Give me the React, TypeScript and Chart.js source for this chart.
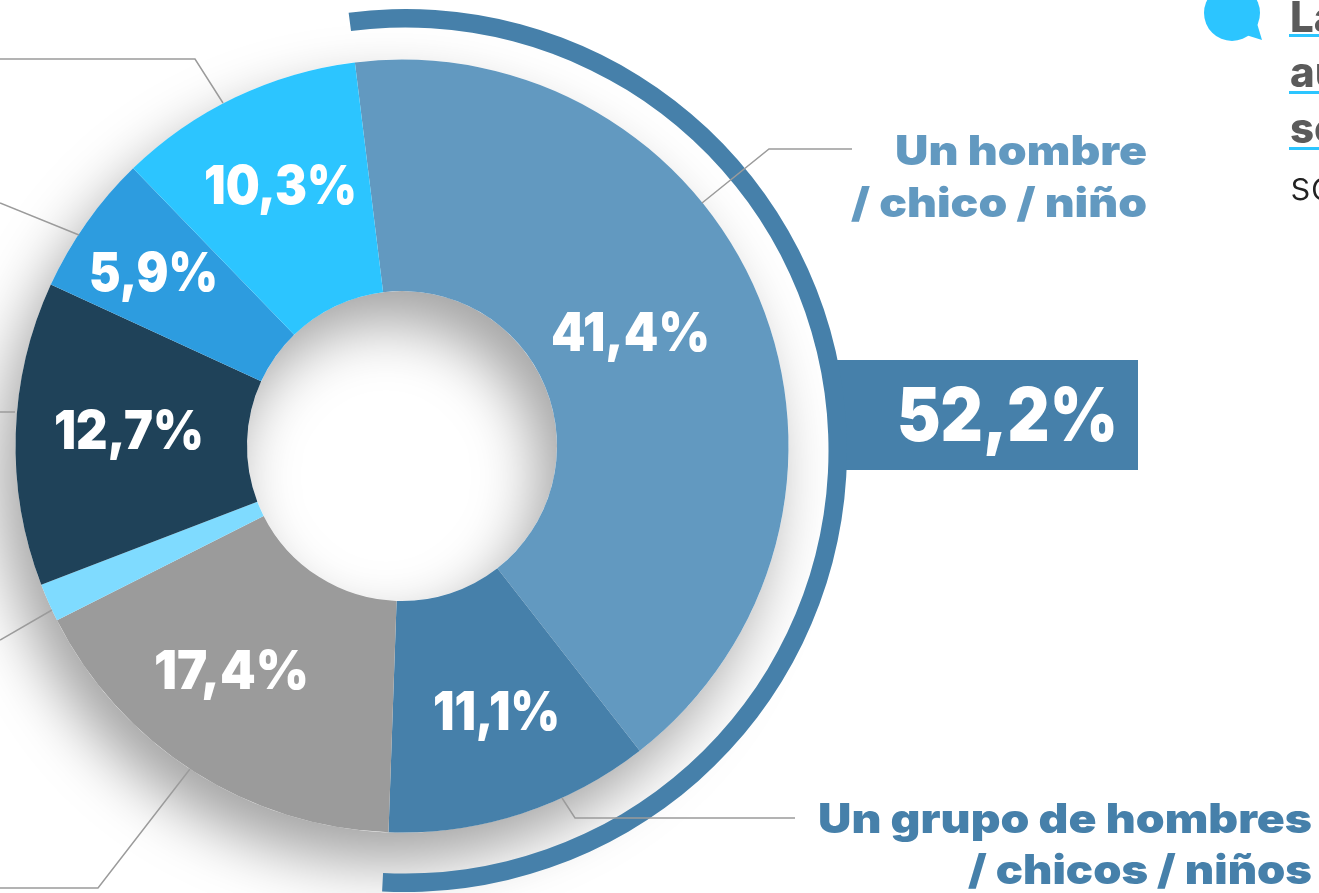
import React, { useEffect, useRef } from "react";
import { Chart, registerables } from "chart.js";

Chart.register(...registerables);

const categories = [
  "Un hombre / chico / niño",
  "Un grupo de hombres / chicos / niños",
  "Gris",
  "Celeste",
  "Azul oscuro",
  "Azul",
  "Cian",
];
const shareValues = [41.4, 11.1, 17.0, 1.6, 12.7, 5.9, 10.3];
const sliceColors = ["#6299C0", "#4680AA", "#9B9B9B", "#7FDBFF", "#1F4259", "#2D9CDF", "#2CC5FF"];
const ringValues = [52.9, 47.1];
const ringColors = ["#4680AA", "rgba(0,0,0,0)"];
const spacerValues = [1];

const FONT = "Inter, 'Noto Sans', sans-serif";

// text, centre x, baseline y, size, target width
const sliceLabels: [string, number, number, number, number][] = [
  ["41,4%", 630.5, 351, 54, 159],
  ["11,1%", 496.5, 730, 54, 127],
  ["17,4%", 231.5, 689, 54, 155],
  ["12,7%", 129, 449, 54, 150],
  ["5,9%", 153.5, 291, 54, 129],
  ["10,3%", 280.5, 204, 54, 153],
];
const calloutLabel: [string, number, number, number, number] = ["52,2%", 1007.5, 441, 74, 221];

// text, right x, baseline y, colour, target width
const sideLabels: [string, number, number, string, number][] = [
  ["Un hombre", 1147, 165, "#6299C0", 252],
  ["/ chico / niño", 1147, 217, "#6299C0", 296],
  ["Un grupo de hombres", 1312, 833, "#4680AA", 494],
  ["/ chicos / niños", 1312, 884, "#4680AA", 344],
];
// text, baseline y, underline y
const noteLines: [string, number, number][] = [
  ["La", 32, 34],
  ["au", 87, 91],
  ["se", 143, 147],
];
const noteTail = "so";

const leaderLines: number[][][] = [
  [[0, 59], [195, 59], [223, 103]],
  [[0, 203], [79, 235]],
  [[0, 412], [15, 412]],
  [[0, 640], [52, 610]],
  [[0, 888], [98, 888], [190, 769]],
  [[702, 203], [769, 149], [852, 149]],
  [[562, 798], [575, 818], [795, 818]],
];

function fittedText(ctx: any, text: string, x: number, y: number, size: number, width: number, align: string) {
  ctx.save();
  ctx.font = `900 ${size}px ${FONT}`;
  ctx.textAlign = align;
  ctx.textBaseline = "alphabetic";
  const w = ctx.measureText(text).width;
  ctx.translate(x, y);
  ctx.scale(width / w, 1);
  ctx.fillText(text, 0, 0);
  ctx.restore();
}

const artPlugin = {
  id: "art",
  beforeDatasetsDraw(chart: any) {
    const ctx = chart.ctx;
    const arc = chart.getDatasetMeta(2).data[0];
    ctx.save();
    // soft shadow of the main ring
    ctx.shadowColor = "rgba(0,0,0,0.36)";
    ctx.shadowBlur = 60;
    ctx.shadowOffsetX = -16;
    ctx.shadowOffsetY = 30;
    ctx.fillStyle = "#ffffff";
    ctx.beginPath();
    ctx.arc(arc.x, arc.y, arc.outerRadius, 0, Math.PI * 2);
    ctx.arc(arc.x, arc.y, arc.innerRadius, 0, Math.PI * 2, true);
    ctx.fill();
    ctx.restore();
    // callout box
    ctx.save();
    ctx.fillStyle = ringColors[0];
    ctx.fillRect(833, 360, 305, 110);
    ctx.restore();
  },
  beforeDatasetDraw(chart: any, args: any) {
    if (args.index === 0) {
      chart.ctx.save();
      chart.ctx.translate(3.5, 4.5);
    }
  },
  afterDatasetDraw(chart: any, args: any) {
    if (args.index === 0) chart.ctx.restore();
  },
  afterDatasetsDraw(chart: any) {
    const ctx = chart.ctx;
    ctx.save();
    // leaders
    ctx.strokeStyle = "#9B9B9B";
    ctx.lineWidth = 1.5;
    leaderLines.forEach((pts) => {
      ctx.beginPath();
      pts.forEach((p, i) => (i ? ctx.lineTo(p[0], p[1]) : ctx.moveTo(p[0], p[1])));
      ctx.stroke();
    });
    // values
    ctx.fillStyle = "#ffffff";
    sliceLabels.forEach(([t, x, y, s, w]) => fittedText(ctx, t, x, y, s, w, "center"));
    fittedText(ctx, calloutLabel[0], calloutLabel[1], calloutLabel[2], calloutLabel[3], calloutLabel[4], "center");
    // side labels
    sideLabels.forEach(([t, x, y, c, w]) => {
      ctx.fillStyle = c;
      fittedText(ctx, t, x, y, 41, w, "right");
    });
    // speech bubble
    ctx.fillStyle = "#2CC5FF";
    ctx.beginPath();
    ctx.arc(1232, 13, 28, 0, Math.PI * 2);
    ctx.fill();
    ctx.beginPath();
    ctx.moveTo(1256, 20);
    ctx.lineTo(1262, 40);
    ctx.lineTo(1246, 35);
    ctx.closePath();
    ctx.fill();
    // cropped note text
    ctx.textAlign = "left";
    ctx.font = `800 42px ${FONT}`;
    noteLines.forEach(([t, y, u]) => {
      ctx.fillStyle = "#5B5B5B";
      ctx.fillText(t, 1290, y);
      ctx.fillStyle = "#2CC5FF";
      ctx.fillRect(1289, u, 30, 3);
    });
    ctx.fillStyle = "#222222";
    ctx.font = `300 40px ${FONT}`;
    ctx.fillText(noteTail, 1290, 200);
    ctx.restore();
  },
};

export default function App() {
  const ref = useRef<HTMLCanvasElement>(null);
  useEffect(() => {
    const chart = new Chart(ref.current as HTMLCanvasElement, {
      type: "doughnut",
      data: {
        labels: categories,
        datasets: [
          { data: ringValues, backgroundColor: ringColors, borderWidth: 0, weight: 18.5, clip: false, rotation: -7.4 } as any,
          { data: spacerValues, backgroundColor: "rgba(0,0,0,0)", borderWidth: 0, weight: 36.5, clip: false } as any,
          { data: shareValues, backgroundColor: sliceColors, borderWidth: 0, weight: 231.5, clip: false } as any,
        ],
      },
      options: {
        responsive: false,
        animation: false,
        rotation: -7,
        radius: 441.5,
        cutout: `${(155 / 441.5) * 100}%`,
        layout: { padding: { left: 0, top: 0, right: 515, bottom: 1 } },
        plugins: { legend: { display: false }, tooltip: { enabled: false } },
      } as any,
      plugins: [artPlugin],
    });
    return () => chart.destroy();
  }, []);
  return (
    <div style={{ position: "fixed", left: 0, top: 0, width: 1319, height: 893, overflow: "hidden", background: "#fff" }}>
      <canvas ref={ref} width={1319} height={893} style={{ display: "block" }} />
    </div>
  );
}
